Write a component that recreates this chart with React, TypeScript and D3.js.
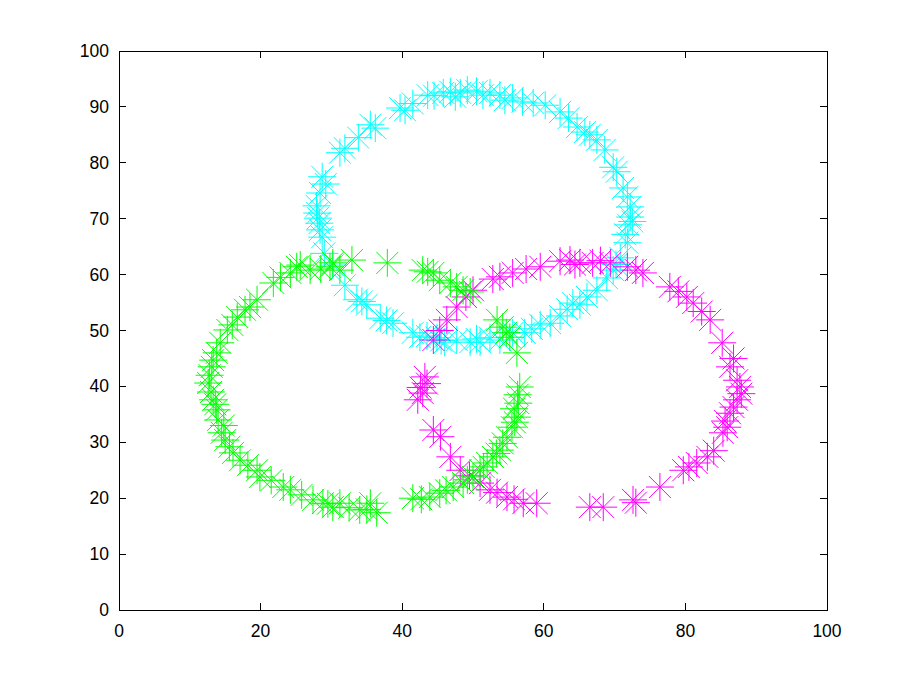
import React from "react";
import * as d3 from "d3";

const xTicks = [0, 20, 40, 60, 80, 100];
const yTicks = [0, 10, 20, 30, 40, 50, 60, 70, 80, 90, 100];

const cyanX = [43.6,45.8,46.8,48.2,49.2,51.4,52.4,53.8,55.6,58.5,60.2,62.3,64.7,65.8,67.5,68.6,69.8,70.3,71.8,72.2,72.2,71.9,71.8,70.8,69.8,68.9,67.5,66.1,65.1,64.1,62.3,60.9,59.5,57.3,55.6,53.8,52.4,51.0,49.6,47.7,46.0,44.9,42.5,41.5,38.7,36.9,35.0,33.6,31.9,30.2,28.7,28.4,28.1,28.0,28.4,28.7,31.2,31.9,35.5,36.2,39.7,40.4,
  44.5,47.5,50.5,54.5,57.0,63.5,66.5,71.2,72.5,71.5,70.2,63.3,58.3,50.5,45.5,43.5,37.8,34.3,29.0,27.9,28.3,29.2,33.8,41.5];
const cyanY = [92.1,92.5,92.7,92.5,93.0,92.1,92.5,92.1,91.6,90.7,90.3,89.1,86.4,85.5,84.1,82.3,79.2,78.4,73.9,72.1,70.3,68.9,65.7,63.0,60.8,59.4,57.2,56.0,54.6,54.9,52.6,51.3,51.0,49.6,49.6,48.3,48.7,47.9,47.9,48.3,47.9,48.7,48.8,49.6,51.3,52.2,54.6,55.5,58.1,61.7,66.7,68.0,70.1,71.0,74.6,77.5,81.8,82.6,86.8,86.2,89.8,89.4,
  92.0,91.8,92.8,91.2,90.9,88.0,85.0,75.5,69.5,67.2,61.8,53.8,50.3,48.5,48.2,49.0,51.8,55.2,63.8,72.3,69.2,76.2,84.5,90.6];

const magentaX = [44.4,46.3,47.7,50.0,53.8,55.6,59.5,63.7,65.1,66.9,69.4,71.8,74.0,77.8,80.2,81.1,83.5,85.2,86.3,87.3,87.7,87.3,86.3,85.9,85.3,83.1,81.6,79.7,76.4,72.6,68.4,66.5,59.0,57.1,54.8,52.4,51.0,48.2,46.8,44.4,42.2,42.9,43.2,
  45.3,49.0,52.8,57.5,62.3,64.4,68.0,73.0,79.0,82.3,86.8,87.9,86.8,85.6,84.0,80.5,73.0,55.8,53.4,49.5,45.4,42.6,43.5];
const magentaY = [48.3,51.9,54.2,57.2,59.6,60.3,61.4,62.6,62.1,62.1,62.1,61.4,60.3,57.8,56.0,54.9,51.9,47.8,43.5,41.1,39.9,37.6,35.2,32.7,31.7,27.4,26.3,25.0,22.0,19.7,18.4,18.4,19.1,19.1,20.2,21.5,22.7,25.0,27.4,32.2,37.6,38.8,41.7,
  50.0,56.0,59.2,61.0,62.4,61.8,62.5,60.8,57.0,53.4,45.0,38.7,36.3,33.8,28.5,25.6,19.2,19.8,21.0,24.0,31.0,39.8,40.5];

const greenX = [37.9,32.9,31.2,30.2,29.8,27.0,25.6,25.1,24.2,21.8,19.5,17.8,16.7,15.3,14.3,13.3,13.1,12.6,13.3,13.8,14.0,14.5,15.0,16.1,17.1,19.5,19.9,23.2,24.2,27.4,28.8,30.2,31.2,34.0,35.5,36.4,41.5,43.9,45.3,47.2,48.6,50.0,51.0,52.0,52.8,53.8,54.8,55.5,56.2,56.4,56.6,56.2,55.2,54.2,53.4,49.6,48.6,46.8,45.3,44.4,42.9,
  28.5,22.8,18.5,16.0,13.8,12.8,13.0,13.6,14.8,15.6,18.2,21.5,25.8,29.5,32.5,35.0,42.7,46.2,49.2,51.5,53.3,54.2,55.9,55.8,56.3,54.7,47.7,43.6];
const greenY = [62.1,62.6,60.8,62.1,61.4,60.8,61.7,61.4,60.3,58.5,55.5,53.7,52.4,50.1,47.8,44.7,43.5,40.6,37.6,35.8,34.0,31.7,30.4,28.1,26.8,25.0,23.8,22.0,21.5,19.7,19.1,18.4,19.1,17.9,19.1,17.4,20.0,20.2,20.9,22.0,22.7,23.8,25.0,26.3,27.4,28.6,30.9,32.7,34.5,37.0,39.9,46.0,48.8,50.6,51.9,56.9,57.2,58.5,59.0,60.3,60.8,
  61.0,59.5,54.2,51.0,46.0,42.0,39.0,36.8,33.0,29.2,25.9,23.2,20.6,19.0,18.3,18.0,19.8,21.4,23.3,25.6,28.0,29.8,33.6,36.0,38.5,49.6,57.8,60.5];

const series = [
  { name: "cyan", xs: cyanX, ys: cyanY, color: "#00ffff" },
  { name: "magenta", xs: magentaX, ys: magentaY, color: "#ff00ff" },
  { name: "green", xs: greenX, ys: greenY, color: "#00ff00" },
];

const W = 913, H = 687;
const L = 119, R = 827, T = 51, B = 610;

export default function App() {
  const x = d3.scaleLinear().domain([0, 100]).range([L, R]);
  const y = d3.scaleLinear().domain([0, 100]).range([B, T]);
  const h = 14; // plus half-length
  const d = 11; // diagonal half-extent
  const star = (cx: number, cy: number) =>
    `M${cx - h},${cy}L${cx + h},${cy}M${cx},${cy - h}L${cx},${cy + h}` +
    `M${cx - d},${cy - d}L${cx + d},${cy + d}M${cx - d},${cy + d}L${cx + d},${cy - d}`;
  const font = "'Liberation Sans', Arial, Helvetica, sans-serif";
  return (
    <div style={{ position: "fixed", left: 0, top: 0 }}>
      <svg width={W} height={H} style={{ display: "block", background: "#fff" }}>
        <rect x={0} y={0} width={W} height={H} fill="#fff" />
        <rect x={L} y={T} width={R - L} height={B - T} fill="#fff" />
        {series.map((s) => (
          <path
            key={s.name}
            d={s.xs.map((v, i) => star(x(v), y(s.ys[i]))).join("")}
            stroke={s.color}
            strokeWidth={1}
            fill="none"
          />
        ))}
        <g stroke="#000" strokeWidth={1} fill="none" shapeRendering="crispEdges">
          <rect x={L} y={T} width={R - L} height={B - T} />
          {xTicks.map((t) => (
            <g key={"x" + t}>
              <line x1={x(t)} x2={x(t)} y1={B} y2={B - 7} />
              <line x1={x(t)} x2={x(t)} y1={T} y2={T + 7} />
            </g>
          ))}
          {yTicks.map((t) => (
            <g key={"y" + t}>
              <line x1={L} x2={L + 7} y1={y(t)} y2={y(t)} />
              <line x1={R} x2={R - 7} y1={y(t)} y2={y(t)} />
            </g>
          ))}
        </g>
        <g fontFamily={font} fontSize={17.5} fill="#000">
          {xTicks.map((t) => (
            <text key={"xl" + t} x={x(t)} y={B + 27} textAnchor="middle">{t}</text>
          ))}
          {yTicks.map((t) => (
            <text key={"yl" + t} x={L - 10} y={y(t) + 6} textAnchor="end">{t}</text>
          ))}
        </g>
      </svg>
    </div>
  );
}
